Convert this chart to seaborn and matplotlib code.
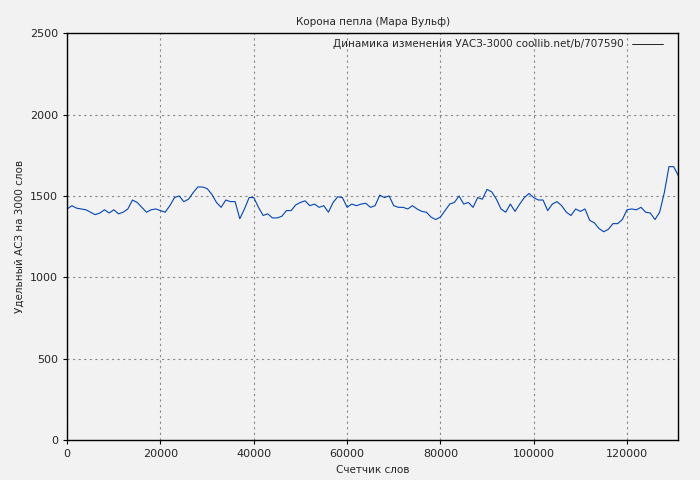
import numpy as np
import pandas as pd
import matplotlib
matplotlib.use("Agg")
import matplotlib.pyplot as plt
import seaborn as sns

words = np.arange(0, 132) * 1000
uasz = [1420, 1440, 1425, 1420, 1415, 1400, 1385, 1395, 1415, 1395,
        1415, 1390, 1400, 1420, 1475, 1460, 1430, 1400, 1415, 1420,
        1410, 1400, 1440, 1490, 1500, 1465, 1480, 1520, 1555, 1555,
        1545, 1510, 1460, 1430, 1475, 1465, 1465, 1360, 1420, 1490,
        1490, 1430, 1380, 1390, 1365, 1365, 1375, 1410, 1410, 1445,
        1460, 1470, 1440, 1450, 1430, 1440, 1400, 1460, 1495, 1490,
        1430, 1450, 1440, 1450, 1455, 1430, 1440, 1505, 1490, 1500,
        1440, 1430, 1430, 1420, 1440, 1420, 1405, 1400, 1370, 1355,
        1370, 1410, 1450, 1460, 1500, 1450, 1460, 1430, 1490, 1480,
        1540, 1525, 1480, 1420, 1400, 1450, 1405, 1450, 1490, 1515,
        1490, 1475, 1475, 1410, 1450, 1465, 1440, 1400, 1380, 1420,
        1405, 1420, 1350, 1335, 1300, 1280, 1295, 1330, 1330, 1355,
        1415, 1420, 1415, 1430, 1400, 1395, 1355, 1400, 1520, 1680,
        1680, 1625]
df = pd.DataFrame({"x": words, "y": uasz})

sns.set_style("whitegrid")
plt.rcParams["font.family"] = ["DejaVu Sans"]
fig, ax = plt.subplots(figsize=(7, 4.8), dpi=100)
fig.patch.set_facecolor("#f2f2f2")
ax.set_facecolor("#f2f2f2")
sns.lineplot(data=df, x="x", y="y", ax=ax, color="#0044bb", linewidth=0.8,
             label="Динамика изменения УАСЗ-3000 coollib.net/b/707590")
ax.set_xlim(0, 131000)
ax.set_ylim(0, 2500)
ax.set_xticks(range(0, 130000, 20000))
ax.set_yticks(range(0, 2501, 500))
ax.grid(True, color="#888888", linestyle=(0, (2, 3)), linewidth=0.8)
for s in ax.spines.values():
    s.set_color("black")
    s.set_linewidth(1)
ax.tick_params(labelsize=8, length=3, color="black", left=True, bottom=True)
ax.set_title("Корона пепла (Мара Вульф)", fontsize=7.5)
ax.set_xlabel("Счетчик слов", fontsize=7.5)
ax.set_ylabel("Удельный АСЗ на 3000 слов", fontsize=7.5)
leg = ax.legend(loc="upper right", fontsize=7.5, frameon=False, markerfirst=False,
                handlelength=3, borderaxespad=0.2, bbox_to_anchor=(0.985, 1.0))
for h in leg.get_lines():
    h.set_color("black")
    h.set_linewidth(0.6)
plt.subplots_adjust(left=0.096, right=0.969, top=0.931, bottom=0.083)
plt.savefig("out.png", dpi=100, facecolor=fig.get_facecolor())
